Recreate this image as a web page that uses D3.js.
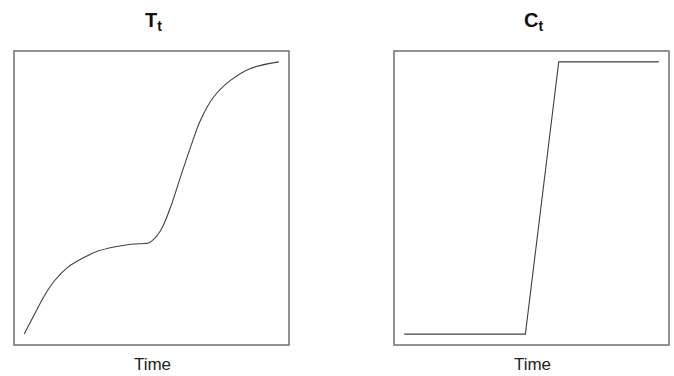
<!DOCTYPE html>
<html>
<head>
<meta charset="utf-8">
<script src="https://cdn.jsdelivr.net/npm/d3@7"></script>
<style>
  html, body { margin: 0; padding: 0; background: #fff; }
  svg { display: block; }
</style>
</head>
<body>
<svg id="chart" width="674" height="376"></svg>
<script>
// Trend component T_t (time index 0..100, value 0..100)
const trendTime  = [0, 4.1, 8.0, 12.0, 17.2, 23.8, 29.0, 35.3, 42, 47.1, 49.1, 53.4, 57.4, 61.3, 65.3, 69.2, 74.4, 81.0, 88.9, 100];
const trendValue = [0, 7.4, 14.2, 19.7, 24.6, 28.3, 30.5, 32.0, 33.0, 33.3, 33.6, 37.8, 46.4, 57.5, 68.6, 78.5, 87.1, 93.2, 97.6, 100];
// Level-shift component C_t
const shiftTime  = [0, 47.6, 60.7, 100];
const shiftValue = [0, 0, 100, 100];
const panelTitles = ["T", "C"];
const panelSubs = ["t", "t"];
const xLabel = "Time";

const svg = d3.select("#chart");
const panels = [
  { x0: 14, x1: 289, t: trendTime, v: trendValue, curve: d3.curveCatmullRom.alpha(0.5) },
  { x0: 394, x1: 669, t: shiftTime, v: shiftValue, curve: d3.curveLinear }
];
const y0 = 51, y1 = 345;

panels.forEach((p, i) => {
  const x = d3.scaleLinear().domain([-4, 104]).range([p.x0, p.x1]);
  const y = d3.scaleLinear().domain([-4, 104]).range([y1, y0]);
  const pts = p.t.map((t, k) => [t, p.v[k]]);
  const line = d3.line().x(d => x(d[0])).y(d => y(d[1])).curve(p.curve);

  svg.append("path")
    .attr("d", line(pts))
    .attr("fill", "none")
    .attr("stroke", "#404040")
    .attr("stroke-width", 1.1);

  svg.append("rect")
    .attr("x", p.x0).attr("y", y0)
    .attr("width", p.x1 - p.x0).attr("height", y1 - y0)
    .attr("fill", "none")
    .attr("stroke", "#6e6e6e")
    .attr("stroke-width", 1.5);

  const cx = (p.x0 + p.x1) / 2;
  const title = svg.append("text")
    .attr("x", cx + 2).attr("y", 27)
    .attr("text-anchor", "middle")
    .attr("font-family", "Liberation Sans, Arial, sans-serif")
    .attr("font-weight", "bold")
    .attr("font-size", 20)
    .attr("fill", "#111");
  title.append("tspan").text(panelTitles[i]);
  title.append("tspan").attr("font-size", 14).attr("dy", 4).text(panelSubs[i]);

  svg.append("text")
    .attr("x", cx + 1).attr("y", 370)
    .attr("text-anchor", "middle")
    .attr("font-family", "Liberation Sans, Arial, sans-serif")
    .attr("font-size", 17)
    .attr("fill", "#222")
    .text(xLabel);
});
</script>
</body>
</html>
